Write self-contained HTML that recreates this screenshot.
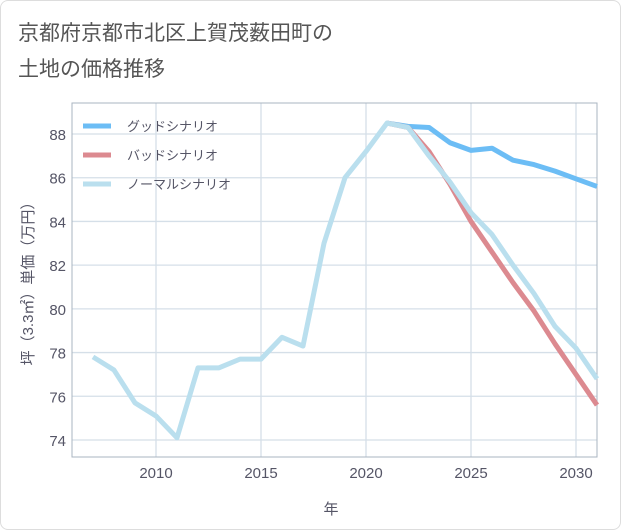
<!DOCTYPE html>
<html><head><meta charset="utf-8"><style>
body{margin:0;background:#fff;font-family:"Liberation Sans","Noto Sans CJK JP",sans-serif;}
#card{position:absolute;left:0;top:0;width:619px;height:528px;border:1px solid #ddd;border-radius:8px;background:#fff;}
</style></head><body>
<div id="card">
<svg id="chart" width="621" height="530" style="position:absolute;left:-1px;top:-1px">
<text x="18" y="40" font-size="21" fill="#555">京都府京都市北区上賀茂薮田町の</text>
<text x="18" y="76" font-size="21" fill="#555">土地の価格推移</text>
<g id="grid"></g>
<g id="series"></g>
<g id="legend"></g>
<text x="331" y="514" font-size="15" fill="#556" text-anchor="middle">年</text>
<text transform="translate(33,280) rotate(-90)" font-size="15" fill="#556" text-anchor="middle">坪（3.3㎡）単価（万円）</text>
</svg></div>
<script>
const years=[2007,2008,2009,2010,2011,2012,2013,2014,2015,2016,2017,2018,2019,2020,2021,2022,2023,2024,2025,2026,2027,2028,2029,2030,2031];
const normal=[77.8,77.2,75.7,75.1,74.1,77.3,77.3,77.7,77.7,78.7,78.3,83.0,86.0,87.2,88.5,88.3,87.0,85.8,84.4,83.4,82.0,80.7,79.2,78.2,76.8];
const futureYears=[2021,2022,2023,2024,2025,2026,2027,2028,2029,2030,2031];
const good=[88.5,88.35,88.3,87.6,87.25,87.35,86.8,86.6,86.3,85.95,85.6];
const bad=[88.5,88.3,87.2,85.7,84.0,82.6,81.2,79.9,78.4,77.0,75.6];
const xTicks=[2010,2015,2020,2025,2030];
const yTicks=[74,76,78,80,82,84,86,88];
const L=72,R=597,T=103,B=457;
const xs=y=>156+(y-2010)*21;
const ys=v=>134+(88-v)*21.857;
const NS="http://www.w3.org/2000/svg";
function mk(tag,at,parent){const e=document.createElementNS(NS,tag);for(const k in at)e.setAttribute(k,at[k]);parent.appendChild(e);return e;}
const g=document.getElementById('grid');
yTicks.forEach(v=>{
 const l=mk('line',{x1:L,x2:R,y1:ys(v),y2:ys(v),stroke:'#d5dfe8','stroke-width':1.3},g);
 
 
 const t=mk('text',{x:66,y:ys(v)+6,'font-size':15,fill:'#556','text-anchor':'end'},g);
 t.textContent=v;
 
 
});
xTicks.forEach(v=>{
 const l=mk('line',{x1:xs(v),x2:xs(v),y1:T,y2:B,stroke:'#d5dfe8','stroke-width':1.3},g);
 
 
 const t=mk('text',{x:xs(v),y:478,'font-size':15,fill:'#556','text-anchor':'middle'},g);
 t.textContent=v;
 
 
});
const fr=mk('rect',{x:L,y:T,width:R-L,height:B-T,fill:'none',stroke:'#aab4c0','stroke-width':1},g);


const s=document.getElementById('series');
function line(xa,va,color,name){
 const p=mk('polyline',{points:xa.map((x,i)=>xs(x)+','+ys(va[i])).join(' '),fill:'none',stroke:color,'stroke-width':5,'stroke-linejoin':'round'},s);
 
 
}
line(futureYears,good,'#6cbdf5','good-scenario-line');
line(futureYears,bad,'#dc8a90','bad-scenario-line');
line(years,normal,'#badfee','normal-scenario-line');
const lg=document.getElementById('legend');
[['グッドシナリオ','#6cbdf5',126],['バッドシナリオ','#dc8a90',155],['ノーマルシナリオ','#badfee',184]].forEach(([n,c,y])=>{
 const l=mk('line',{x1:83,x2:111,y1:y,y2:y,stroke:c,'stroke-width':5},lg);
 
 
 const t=mk('text',{x:127,y:y+5,'font-size':13,fill:'#556'},lg);
 t.textContent=n;
 
 
});
</script>
</body></html>
